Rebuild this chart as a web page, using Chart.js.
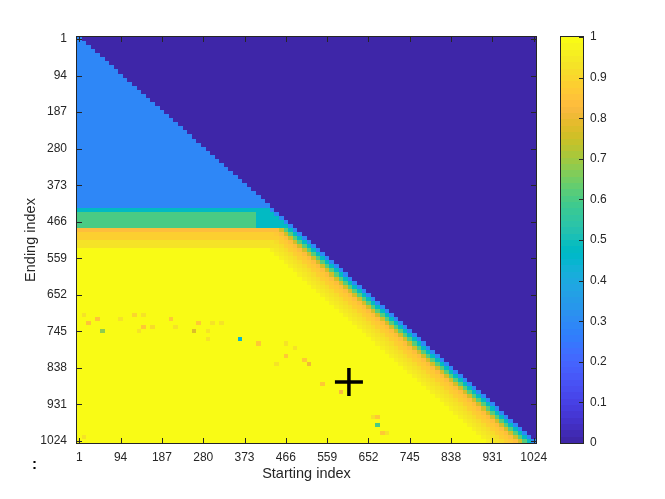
<!DOCTYPE html>
<html>
<head>
<meta charset="utf-8">
<script src="https://cdn.jsdelivr.net/npm/chart.js@4"></script>
<style>
  body { margin: 0; background: #fff; }
  #wrap { position: relative; width: 665px; height: 499px; }
  canvas { position: absolute; left: 0; top: 0; }
  #dots { position: absolute; left: 32px; top: 455px; font: bold 15px "Liberation Sans", sans-serif; color: #000; }
</style>
</head>
<body>
<div id="wrap">
  <canvas id="heat" width="665" height="499"></canvas>
  <canvas id="cbar" width="665" height="499"></canvas>
  <div id="dots">:</div>
</div>
<script>
// axis tick labels (starting / ending index)
const tickLabels = [1, 94, 187, 280, 373, 466, 559, 652, 745, 838, 931, 1024];
const cbTicks = [0, 0.1, 0.2, 0.3, 0.4, 0.5, 0.6, 0.7, 0.8, 0.9, 1];
const nCells = 100;

// base value of each band of rows (row = ending index cell)
const bandFirstRow = [0, 42, 43, 47, 48, 50, 52];
const bandValue = [0.29, 0.47, 0.6, 0.83, 0.88, 0.93, 0.985];
// cyan block at the right end of the green rows
const cyanRows = [43, 46];
const cyanFromCol = 39;
const cyanValue = 0.47;
// values going left from the diagonal cell
const edgeProfile = [0.29, 0.47, 0.62, 0.76, 0.84, 0.87, 0.89, 0.91, 0.93, 0.95, 0.96];
// isolated specks in the yellow part
const speckCol = [2, 4, 5, 12, 14, 20, 16, 25, 26, 35, 39, 45, 49, 50, 53, 57, 65, 65, 66,
                  1, 9, 14, 13, 21, 29, 31, 28, 28, 45, 47, 43, 64, 67, 1];
const speckRow = [70, 69, 72, 68, 71, 69, 71, 72, 70, 74, 75, 78, 79, 80, 85, 87, 93, 95, 97,
                  68, 69, 68, 72, 71, 70, 70, 72, 74, 75, 76, 80, 93, 97, 98];
const speckVal = [0.85, 0.85, 0.68, 0.9, 0.87, 0.86, 0.92, 0.78, 0.87, 0.45, 0.87, 0.86, 0.87, 0.8, 0.86, 0.82, 0.86, 0.6, 0.87,
                  0.93, 0.93, 0.93, 0.93, 0.93, 0.93, 0.93, 0.93, 0.93, 0.93, 0.93, 0.93, 0.93, 0.93, 0.93];
// the hand-drawn cross
const markX = [608];
const markY = [874];

const parula = [
  [0.2422,0.1504,0.6603],[0.2504,0.1650,0.7076],[0.2578,0.1818,0.7511],[0.2647,0.1978,0.7952],
  [0.2706,0.2147,0.8364],[0.2751,0.2342,0.8710],[0.2783,0.2559,0.8991],[0.2803,0.2782,0.9221],
  [0.2813,0.3006,0.9414],[0.2810,0.3228,0.9579],[0.2795,0.3447,0.9717],[0.2760,0.3667,0.9829],
  [0.2699,0.3892,0.9906],[0.2602,0.4123,0.9952],[0.2440,0.4358,0.9988],[0.2206,0.4603,0.9973],
  [0.1963,0.4847,0.9892],[0.1834,0.5074,0.9798],[0.1786,0.5289,0.9682],[0.1764,0.5499,0.9520],
  [0.1687,0.5703,0.9359],[0.1540,0.5902,0.9218],[0.1460,0.6091,0.9079],[0.1380,0.6276,0.8973],
  [0.1248,0.6459,0.8883],[0.1113,0.6635,0.8763],[0.0952,0.6798,0.8598],[0.0689,0.6948,0.8394],
  [0.0297,0.7082,0.8163],[0.0036,0.7203,0.7917],[0.0067,0.7312,0.7660],[0.0433,0.7411,0.7394],
  [0.0964,0.7500,0.7120],[0.1408,0.7584,0.6842],[0.1717,0.7670,0.6554],[0.1938,0.7758,0.6251],
  [0.2161,0.7843,0.5923],[0.2470,0.7918,0.5567],[0.2906,0.7973,0.5188],[0.3406,0.8008,0.4789],
  [0.3909,0.8029,0.4354],[0.4456,0.8024,0.3909],[0.5044,0.7993,0.3480],[0.5616,0.7942,0.3045],
  [0.6174,0.7876,0.2612],[0.6720,0.7793,0.2227],[0.7242,0.7698,0.1910],[0.7738,0.7598,0.1646],
  [0.8203,0.7498,0.1535],[0.8634,0.7406,0.1596],[0.9035,0.7330,0.1774],[0.9393,0.7288,0.2100],
  [0.9728,0.7298,0.2394],[0.9956,0.7434,0.2371],[0.9970,0.7659,0.2199],[0.9952,0.7893,0.2028],
  [0.9892,0.8136,0.1885],[0.9786,0.8386,0.1766],[0.9676,0.8639,0.1643],[0.9610,0.8890,0.1537],
  [0.9597,0.9135,0.1423],[0.9628,0.9373,0.1265],[0.9691,0.9606,0.1064],[0.9769,0.9839,0.0805]
];
function colourOf(v) {
  const c = parula[Math.max(0, Math.min(63, Math.floor(v * 64)))];
  return 'rgb(' + c.map(x => Math.round(x * 255)).join(',') + ')';
}

// build the matrix (rows = ending index, cols = starting index)
const matrix = [];
for (let r = 0; r < nCells; r++) {
  let b = 0;
  while (b + 1 < bandFirstRow.length && bandFirstRow[b + 1] <= r) b++;
  const row = [];
  for (let c = 0; c < nCells; c++) {
    if (c > r) { row.push(0); continue; }
    let v = bandValue[b];
    if (r >= cyanRows[0] && r <= cyanRows[1] && c >= cyanFromCol) v = cyanValue;
    const off = r - c;
    if (off < edgeProfile.length) v = Math.min(v, edgeProfile[off]);
    row.push(v);
  }
  matrix.push(row);
}
speckCol.forEach((c, i) => { matrix[speckRow[i]][c] = speckVal[i]; });

const step = (tickLabels[tickLabels.length - 1] - tickLabels[0]) / (nCells - 1);
const lo = tickLabels[0] - step / 2;
const hi = tickLabels[tickLabels.length - 1] + step / 2;
// cell boundaries in index units
const edges = [];
for (let k = 0; k <= nCells; k++) edges.push(lo + k * step);
const ink = '#262626';

Chart.defaults.font.family = '"Liberation Sans", Arial, sans-serif';
Chart.defaults.color = ink;

const heatmap = {
  id: 'heatmap',
  beforeDatasetsDraw(chart) {
    const {ctx} = chart;
    const xs = chart.scales.x, ys = chart.scales.y;
    const px = edges.map(e => Math.round(xs.getPixelForValue(e)));
    const py = edges.map(e => Math.round(ys.getPixelForValue(e)));
    ctx.save();
    for (let r = 0; r < nCells; r++) {
      for (let c = 0; c < nCells; c++) {
        ctx.fillStyle = colourOf(matrix[r][c]);
        ctx.fillRect(px[c], py[r], px[c + 1] - px[c], py[r + 1] - py[r]);
      }
    }
    ctx.restore();
  }
};

// box with inside ticks on all four sides
const frame = {
  id: 'frame',
  afterDraw(chart) {
    const {ctx, chartArea: a} = chart;
    const xs = chart.scales.x, ys = chart.scales.y;
    ctx.save();
    ctx.strokeStyle = ink;
    ctx.lineWidth = 1;
    ctx.strokeRect(a.left - 0.5, a.top - 0.5, a.right - a.left + 1, a.bottom - a.top + 1);
    ctx.beginPath();
    tickLabels.forEach(v => {
      const px = Math.round(xs.getPixelForValue(v)) + 0.5;
      ctx.moveTo(px, a.bottom); ctx.lineTo(px, a.bottom - 5);
      ctx.moveTo(px, a.top); ctx.lineTo(px, a.top + 5);
      const py = Math.round(ys.getPixelForValue(v)) + 0.5;
      ctx.moveTo(a.left, py); ctx.lineTo(a.left + 5, py);
      ctx.moveTo(a.right, py); ctx.lineTo(a.right - 5, py);
    });
    ctx.stroke();
    ctx.restore();
  }
};

const setTicks = s => { s.ticks = tickLabels.map(v => ({value: v})); };
const noGrid = {display: false, drawTicks: false, tickLength: 0};

new Chart(document.getElementById('heat'), {
  type: 'scatter',
  data: {
    datasets: [{
      data: markX.map((x, i) => ({x: x, y: markY[i]})),
      pointStyle: 'cross',
      radius: 14,
      borderWidth: 3.5,
      borderColor: '#000',
      backgroundColor: '#000'
    }]
  },
  options: {
    responsive: false,
    animation: false,
    layout: {padding: {left: 0, top: 37, right: 129, bottom: 0}},
    plugins: {legend: {display: false}, tooltip: {enabled: false}},
    scales: {
      x: {
        type: 'linear', min: lo, max: hi,
        afterBuildTicks: setTicks,
        afterFit: s => { s.height = 56; },
        grid: noGrid, border: {display: false},
        ticks: {autoSkip: false, maxRotation: 0, padding: 7, font: {size: 12}, callback: v => String(v)},
        title: {display: true, text: 'Starting index', font: {size: 14.5}, padding: {top: 0, bottom: 16}}
      },
      y: {
        type: 'linear', min: lo, max: hi, reverse: true,
        afterBuildTicks: setTicks,
        afterFit: s => { s.width = 77; },
        grid: noGrid, border: {display: false},
        ticks: {autoSkip: false, padding: 10, font: {size: 12}, callback: v => String(v)},
        title: {display: true, text: 'Ending index', font: {size: 14.5}, padding: {top: 22, bottom: 0}}
      }
    }
  },
  plugins: [heatmap, frame]
});

// colour bar
const bar = {
  id: 'bar',
  beforeDatasetsDraw(chart) {
    const {ctx, chartArea: a} = chart;
    const ys = chart.scales.y;
    ctx.save();
    parula.forEach((c, i) => {
      const y0 = Math.round(ys.getPixelForValue((i + 1) / 64));
      const y1 = Math.round(ys.getPixelForValue(i / 64));
      ctx.fillStyle = colourOf((i + 0.5) / 64);
      ctx.fillRect(a.left, y0, a.right - a.left, y1 - y0);
    });
    ctx.strokeStyle = ink;
    ctx.lineWidth = 1;
    ctx.strokeRect(a.left - 0.5, a.top - 0.5, a.right - a.left + 1, a.bottom - a.top + 1);
    ctx.beginPath();
    cbTicks.forEach(v => {
      const py = Math.round(ys.getPixelForValue(v)) + 0.5;
      ctx.moveTo(a.right, py); ctx.lineTo(a.right - 4, py);
    });
    ctx.stroke();
    ctx.restore();
  }
};

new Chart(document.getElementById('cbar'), {
  type: 'scatter',
  data: {datasets: [{data: []}]},
  options: {
    responsive: false,
    animation: false,
    layout: {padding: {left: 561, top: 37, right: 0, bottom: 56}},
    plugins: {legend: {display: false}, tooltip: {enabled: false}},
    scales: {
      x: {display: false, min: 0, max: 1},
      y: {
        position: 'right', min: 0, max: 1,
        afterBuildTicks: s => { s.ticks = cbTicks.map(v => ({value: v})); },
        afterFit: s => { s.width = 82; },
        grid: noGrid, border: {display: false},
        ticks: {padding: 7, font: {size: 12}, callback: v => String(v)}
      }
    }
  },
  plugins: [bar]
});
</script>
</body>
</html>
